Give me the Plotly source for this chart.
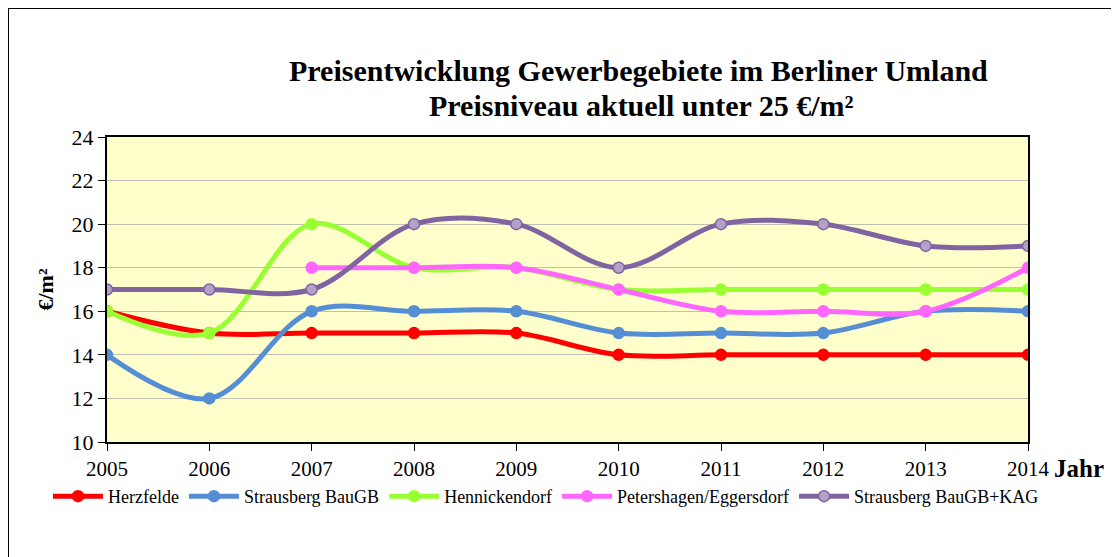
import plotly.graph_objects as go

years = [2005, 2006, 2007, 2008, 2009, 2010, 2011, 2012, 2013, 2014]
herzfelde = [16, 15, 15, 15, 15, 14, 14, 14, 14, 14]
strausberg = [14, 12, 16, 16, 16, 15, 15, 15, 16, 16]
hennickendorf = [16, 15, 20, 18, 18, 17, 17, 17, 17, 17]
petershagen = [None, None, 18, 18, 18, 17, 16, 16, 16, 18]
strausberg_kag = [17, 17, 17, 20, 20, 18, 20, 20, 19, 19]

title_lines = ["Preisentwicklung Gewerbegebiete im Berliner Umland",
               "Preisniveau aktuell unter 25 €/m²"]

series = [
    ("Herzfelde", herzfelde, "#FF0000", "#FF0000", "#FF0000"),
    ("Strausberg BauGB", strausberg, "#558ED5", "#558ED5", "#558ED5"),
    ("Hennickendorf", hennickendorf, "#99FF33", "#99FF33", "#99FF33"),
    ("Petershagen/Eggersdorf", petershagen, "#FF66FF", "#FF66FF", "#FF66FF"),
    ("Strausberg BauGB+KAG", strausberg_kag, "#8064A2", "#B3A2C7", "#8064A2"),
]

FONT = "Times New Roman"
fig = go.Figure()
for name, vals, lc, mc, mlc in series:
    fig.add_trace(go.Scatter(
        x=years, y=vals, name=name, mode="lines+markers",
        line=dict(color=lc, width=5, shape="spline", smoothing=1.0),
        marker=dict(size=11, color=mc, line=dict(color=mlc, width=1.5)),
        connectgaps=False,
    ))

OFF = 8  # page body margin
W, H = 1119 - OFF, 557 - OFF
L, T = 107 - OFF, 137 - OFF
R = W - (1028 - OFF)
B = H - (442 - OFF)
pw, ph = W - L - R, H - T - B

def px(x):
    return (x - OFF - L) / pw

def py(y):
    return (442 - y) / ph

annotations = [
    dict(text="<b>%s</b>" % title_lines[0], x=px(638), y=py(70), xref="paper", yref="paper",
         xanchor="center", yanchor="middle", showarrow=False, font=dict(size=30, family=FONT)),
    dict(text="<b>%s</b>" % title_lines[1], x=px(641), y=py(105), xref="paper", yref="paper",
         xanchor="center", yanchor="middle", showarrow=False, font=dict(size=30, family=FONT)),
    dict(text="<b>Jahr</b>", x=px(1052), xref="paper", xanchor="left",
         y=py(468), yref="paper", yanchor="middle", showarrow=False,
         font=dict(size=25, family=FONT)),
]

fig.update_layout(
    width=W, height=H,
    margin=dict(l=L, r=R, t=T, b=B),
    paper_bgcolor="white", plot_bgcolor="#FFFFCC",
    font=dict(family=FONT, color="black"),
    showlegend=True,
    legend=dict(
        orientation="h", x=px(48), xanchor="left", y=py(478), yanchor="top",
        font=dict(size=18, family=FONT), bgcolor="rgba(0,0,0,0)",
        tracegroupgap=0, itemwidth=50,
    ),
    xaxis=dict(
        range=[2005, 2014], tickmode="array", tickvals=years, ticktext=[str(y) for y in years],
        showgrid=False, zeroline=False, showline=True, linecolor="black", linewidth=2, mirror=True,
        ticks="outside", ticklen=7, tickcolor="black", tickfont=dict(size=21, family=FONT),
    ),
    yaxis=dict(
        range=[10, 24], dtick=2, showgrid=True, gridcolor="#C0C0B0", gridwidth=1,
        zeroline=False, showline=True, linecolor="black", linewidth=2, mirror=True,
        ticks="outside", ticklen=7, tickcolor="black", tickfont=dict(size=22, family=FONT),
        title=dict(text="<b>€/m²</b>", font=dict(size=22, family=FONT), standoff=12),
    ),
    annotations=annotations,
    shapes=[dict(
        type="rect", xref="paper", yref="paper",
        x0=px(8), x1=px(1116), y0=py(575), y1=py(8),
        line=dict(color="black", width=2), fillcolor="rgba(0,0,0,0)", layer="below",
    )],
)

fig.write_html("out.html")
